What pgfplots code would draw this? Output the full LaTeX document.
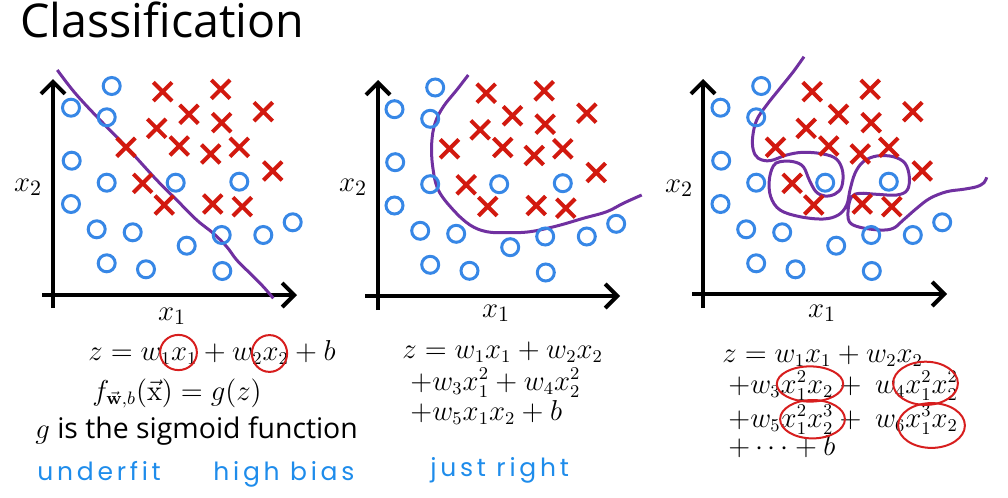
\documentclass[border=0pt]{standalone}
\usepackage{pgfplots}
\pgfplotsset{compat=1.18}
\usepackage{pgfplotstable}
\usepackage[no-math]{fontspec}
\setmainfont{Open Sans}
\newfontfamily\hand[LetterSpace=15]{Poppins}
\usetikzlibrary{arrows.meta}
\definecolor{cblue}{RGB}{55,135,230}
\definecolor{cred}{RGB}{210,25,15}
\definecolor{cpurple}{RGB}{112,48,160}
\definecolor{hblue}{RGB}{30,140,235}
\definecolor{ered}{RGB}{215,30,30}

\pgfplotstableread{
x y
111.7 86
71 107.7
106.7 117.3
71.7 160.7
106.7 182.7
175.7 182.7
239.3 181.7
71 204
96.7 229.3
132.7 232.3
186.7 245.7
221.7 235
263.3 235
292.7 222.3
106.7 263.3
146 269.3
222.3 271
}\circles

\pgfplotstableread{
x y
162.7 91.7
220.7 89.3
189 114.3
221.7 122.7
263.3 111.7
156.7 128.3
126 147.3
179.3 146
210.7 154
239.3 147.3
272.7 171
142.7 183.3
164.3 205
212.7 204
242.3 206.7
}\crosses

\newcommand{\mf}{\fontsize{13.5}{16}\selectfont}
\newcommand{\lf}{\fontsize{15.5}{18}\selectfont}

\begin{document}
\begin{tikzpicture}
\begin{axis}[x=0.5pt,y=0.5pt,xmin=0,xmax=1008,ymin=0,ymax=498,y dir=reverse,
  hide axis,clip=false,
  ax/.style={line width=2pt,black,-{Straight Barb[length=6pt,width=12pt]}},
  circ/.style={only marks,mark=o,mark size=4.25pt,cblue,line width=1.5pt},
  crs/.style={only marks,mark=x,mark size=6.6pt,cred,line width=2pt},
  curve/.style={cpurple,line width=1.5pt,smooth,tension=0.6,no marks}]
\path (axis cs:0,0) rectangle (axis cs:1008,498);

% axes
\addplot[ax] coordinates {(53,308) (53,79)};
\addplot[ax] coordinates {(42,295) (297,295)};
\addplot[ax] coordinates {(378,310) (378,80)};
\addplot[ax] coordinates {(365,296) (620,296)};
\addplot[ax] coordinates {(703,308) (703,79)};
\addplot[ax] coordinates {(692,294) (947,294)};

% data panel 1
\addplot[circ] table {\circles};
\addplot[crs] table {\crosses};
% panel 2
\addplot[circ] table[x expr=\thisrow{x}+323.5, y expr=\thisrow{y}+1.5] {\circles};
\addplot[crs] table[x expr=\thisrow{x}+323.5, y expr=\thisrow{y}+1.5] {\crosses};
% panel 3
\addplot[circ] table[x expr=\thisrow{x}+649.5, y expr=\thisrow{y}] {\circles};
\addplot[crs] table[x expr=\thisrow{x}+649.5, y expr=\thisrow{y}] {\crosses};

% decision boundaries
\addplot[curve] coordinates {(57.3,70) (75,93) (100,120) (126.7,147.3) (156.7,180) (176.7,200) (196.7,220) (213.3,233.3) (226.7,246.7) (236.7,260) (250,273.3) (263.3,286.7) (273.3,298.3)};
\addplot[curve] coordinates {(468.3,75) (456.7,90) (443.3,106.7) (435,123.3) (431.7,143.3) (432.7,166.7) (438.3,190) (453.3,210) (470,225) (486.7,231.7) (506.7,232.7) (530,231.7) (556.7,226) (583.3,218.3) (606.7,211.7) (623.3,203.3) (641.7,195)};
\addplot[curve] coordinates {(804,56.7) (793.3,71.7) (780,88.3) (766.7,105) (756.7,120) (752.7,136.7) (753.3,150) (758.3,158.3) (770,160.7) (786.7,155) (803.3,152.3) (823.3,154) (836.7,159.3) (842.7,171.7) (841.7,186.7) (835,194) (825,196) (816,191.7) (809.3,180) (803.3,166.7) (793.3,161.7) (780,161.7) (773.3,166) (769.3,180) (770.7,196.7) (780,210) (800,216.7) (823.3,219) (838.3,215) (846.7,205) (850,190) (855,173.3) (863.3,161.7) (876.7,156) (893.3,156.7) (905,163.3) (909.3,176.7) (907.3,190) (896.7,195) (876.7,194.3) (860,193.3) (851.7,196.7) (848.3,208.3) (849.3,221.7) (860,227.3) (880,230) (893.3,228.3) (903.3,220) (916.7,208.3) (930,198.3) (946.7,191.7) (963.3,189.3) (976.7,186.7) (984,182.7) (986.7,177.3)};

% title
\node[anchor=base west,inner sep=0pt] at (axis cs:20,37) {\fontsize{23.3}{28}\selectfont Classification};

% axis labels
\node at (axis cs:172,316) {\lf $x_1$};
\node at (axis cs:496,313) {\lf $x_1$};
\node at (axis cs:822,313) {\lf $x_1$};
\node at (axis cs:28,187) {\lf $x_2$};
\node at (axis cs:353,187) {\lf $x_2$};
\node at (axis cs:679,188) {\lf $x_2$};

% panel 1 formulas
\node[anchor=base west,inner sep=0pt] at (axis cs:88,360) {\mf $z = w_1x_1 + w_2x_2 + b$};
\node[anchor=base west,inner sep=0pt] at (axis cs:92,400) {\mf $f_{\vec{\mathbf{w}},b}(\vec{\mathrm{x}}) = g(z)$};
\node[anchor=base west,inner sep=0pt] at (axis cs:35,438) {\fontsize{14.2}{17}\selectfont $g$ is the sigmoid function};
\draw[ered,line width=1pt] (axis cs:178.5,352.5) ellipse [x radius=9.2pt,y radius=8.8pt];
\draw[ered,line width=1pt] (axis cs:269.5,353.5) ellipse [x radius=8.8pt,y radius=9.2pt];

% panel 2 formulas
\node[anchor=base west,inner sep=0pt] at (axis cs:402,358) {\mf $z = w_1x_1 + w_2x_2$};
\node[anchor=base west,inner sep=0pt] at (axis cs:410,390) {\mf $+w_3x_1^2 + w_4x_2^2$};
\node[anchor=base west,inner sep=0pt] at (axis cs:410,420) {\mf $+w_5x_1x_2 + b$};

% panel 3 formulas
\node[anchor=base west,inner sep=0pt] at (axis cs:722,362) {\mf $z = w_1x_1 + w_2x_2$};
\node[anchor=base west,inner sep=0pt] at (axis cs:728,393) {\mf $+w_3x_1^2x_2 + \ w_4x_1^2x_2^2$};
\node[anchor=base west,inner sep=0pt] at (axis cs:728,427) {\mf $+w_5x_1^2x_2^3 + \ w_6x_1^3x_2$};
\node[anchor=base west,inner sep=0pt] at (axis cs:728,455) {\mf $+\cdots + b$};
\draw[ered,line width=1pt] (axis cs:810,384) ellipse [x radius=16.6pt,y radius=8.8pt];
\draw[ered,line width=1pt] (axis cs:925.5,383.3) ellipse [x radius=16.2pt,y radius=10.8pt];
\draw[ered,line width=1pt] (axis cs:812.5,419.2) ellipse [x radius=16.2pt,y radius=9.6pt];
\draw[ered,line width=1pt] (axis cs:931.5,425.5) ellipse [x radius=16.7pt,y radius=11.2pt];

% handwritten notes
\node[anchor=base west,inner sep=0pt,hblue] at (axis cs:37,480) {\hand\fontsize{12.5}{15}\selectfont underfit};
\node[anchor=base west,inner sep=0pt,hblue] at (axis cs:213,480) {\hand\fontsize{12.5}{15}\selectfont high bias};
\node[anchor=base west,inner sep=0pt,hblue] at (axis cs:430,476) {\hand\fontsize{12.5}{15}\selectfont just right};
\end{axis}
\end{tikzpicture}
\end{document}
